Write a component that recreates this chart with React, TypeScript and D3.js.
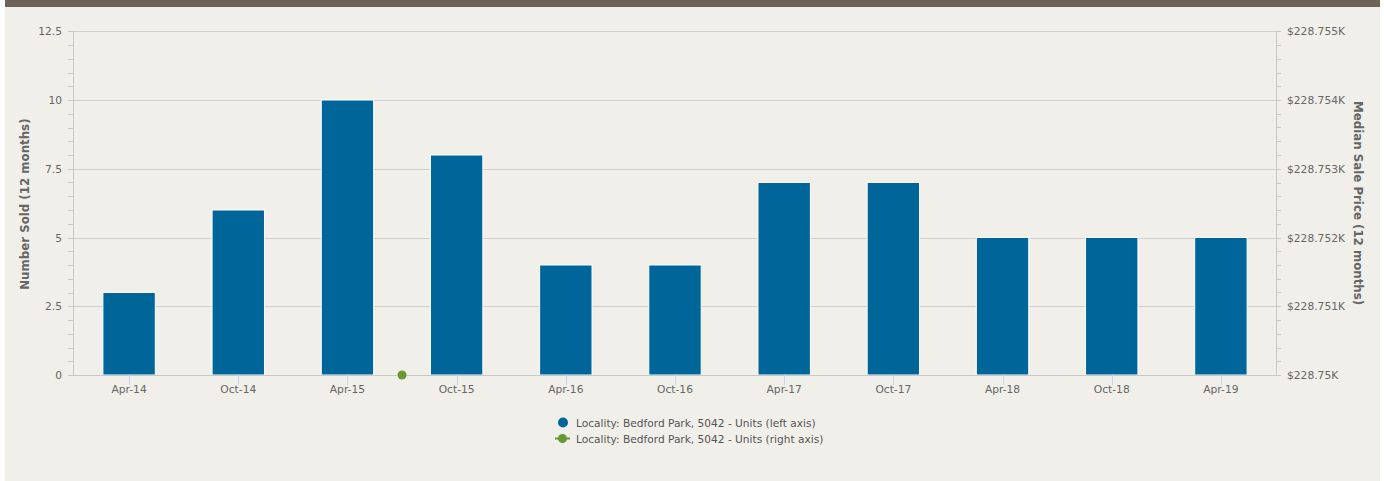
import React from "react";
import * as d3 from "d3";

const categories = ["Apr-14", "Oct-14", "Apr-15", "Oct-15", "Apr-16", "Oct-16", "Apr-17", "Oct-17", "Apr-18", "Oct-18", "Apr-19"];
const numberSold = [3, 6, 10, 8, 4, 4, 7, 7, 5, 5, 5];
const leftTicks = [0, 2.5, 5, 7.5, 10, 12.5];
const rightTicks = [228750, 228751, 228752, 228753, 228754, 228755];
// median price series: one point, between Apr-15 and Oct-15 (category position 2.5)
const pricePoints = [{ pos: 2.5, value: 228750 }];
const legendItems = [
  "Locality: Bedford Park, 5042 - Units (left axis)",
  "Locality: Bedford Park, 5042 - Units (right axis)",
];

const W = 1384, H = 481;
const L = 73, R = 1276, T = 31.25, B = 375;
const BLUE = "#00669a";
const GREEN = "#669933";
const FONT = "DejaVu Sans, Verdana, sans-serif";

export default function App() {
  const x = d3.scaleBand<string>().domain(categories).range([L + 1.5, R - 0.5]).paddingInner(0.52).paddingOuter(0.26);
  const xc = (i: number) => (x(categories[0]) as number) + x.bandwidth() / 2 + i * x.step();
  const y = d3.scaleLinear().domain([0, 12.5]).range([B, T]);
  const y2 = d3.scaleLinear().domain([228750, 228755]).range([B, T]);
  const minorL = d3.range(0, 12.5 + 1e-9, 0.5);
  const minorR = d3.range(0, 26).map((i) => 228750 + i * 0.2);
  const fmtR = (v: number) => "$" + d3.format("")(+(v / 1000).toFixed(3)) + "K";
  const fmtL = (v: number) => String(v);

  return (
    <div style={{ position: "fixed", left: 0, top: 0, width: W, height: H, background: "#fff" }}>
      <svg width={W} height={H} style={{ display: "block", fontFamily: FONT }}>
        <rect x={5} y={0} width={1375} height={H} fill="#f0efea" />
        <rect x={5} y={0} width={1375} height={7} fill="#6e6158" />
        {/* gridlines */}
        {leftTicks.map((t) => (
          <line key={"g" + t} x1={L} x2={R} y1={Math.round(y(t)) + 0.5} y2={Math.round(y(t)) + 0.5} stroke="#cfcfcf" strokeWidth={1} />
        ))}
        {/* left axis */}
        <line x1={L + 0.5} x2={L + 0.5} y1={T} y2={B} stroke="#c8c8c8" />
        {minorL.map((t) => (
          <line key={"ml" + t} x1={L - 5} x2={L} y1={Math.round(y(t)) + 0.5} y2={Math.round(y(t)) + 0.5} stroke="#c8c8c8" />
        ))}
        {leftTicks.map((t) => (
          <text key={"lt" + t} x={L - 11} y={y(t) + 4} textAnchor="end" fontSize={10.7} fill="#666">{fmtL(t)}</text>
        ))}
        <text transform={`translate(29,${(T + B) / 2 + 1}) rotate(-90)`} textAnchor="middle" fontSize={11.8} fontWeight="bold" fill="#666">Number Sold (12 months)</text>
        {/* right axis */}
        <line x1={R + 0.5} x2={R + 0.5} y1={T} y2={B} stroke="#c8c8c8" />
        {minorR.map((t, i) => (
          <line key={"mr" + i} x1={R} x2={R + 5} y1={Math.round(y2(t)) + 0.5} y2={Math.round(y2(t)) + 0.5} stroke="#c8c8c8" />
        ))}
        {rightTicks.map((t) => (
          <text key={"rt" + t} x={R + 11} y={y2(t) + 4} textAnchor="start" fontSize={10.7} fill="#666">{fmtR(t)}</text>
        ))}
        <text transform={`translate(1354,${(T + B) / 2}) rotate(90)`} textAnchor="middle" fontSize={11.8} fontWeight="bold" fill="#666">Median Sale Price (12 months)</text>
        {/* bars */}
        {numberSold.map((v, i) => (
          <rect key={"b" + i} x={x(categories[i])} y={y(v)} width={x.bandwidth()} height={B - y(v)} fill={BLUE} stroke="#ffffff" strokeWidth={1} />
        ))}
        {/* x axis */}
        <line x1={L} x2={R} y1={B + 0.5} y2={B + 0.5} stroke="#c8c8c8" />
        {categories.map((c, i) => (
          <g key={"x" + c}>
            <line x1={Math.round(xc(i)) + 0.5} x2={Math.round(xc(i)) + 0.5} y1={B} y2={B + 10} stroke="#ccd6eb" />
            <text x={xc(i)} y={B + 18} textAnchor="middle" fontSize={10.7} fill="#666">{c}</text>
          </g>
        ))}
        {/* price points */}
        {pricePoints.map((p, i) => (
          <circle key={"p" + i} cx={xc(p.pos)} cy={y2(p.value)} r={4.5} fill={GREEN} />
        ))}
        {/* legend */}
        <g>
          <circle cx={563} cy={422.5} r={5} fill={BLUE} />
          <text x={576} y={426.5} fontSize={10.6} fill="#555">{legendItems[0]}</text>
          <line x1={555} x2={570} y1={438.5} y2={438.5} stroke={GREEN} strokeWidth={2} />
          <circle cx={562.5} cy={438.5} r={4.5} fill={GREEN} />
          <text x={576} y={442.5} fontSize={10.6} fill="#555">{legendItems[1]}</text>
        </g>
      </svg>
    </div>
  );
}
